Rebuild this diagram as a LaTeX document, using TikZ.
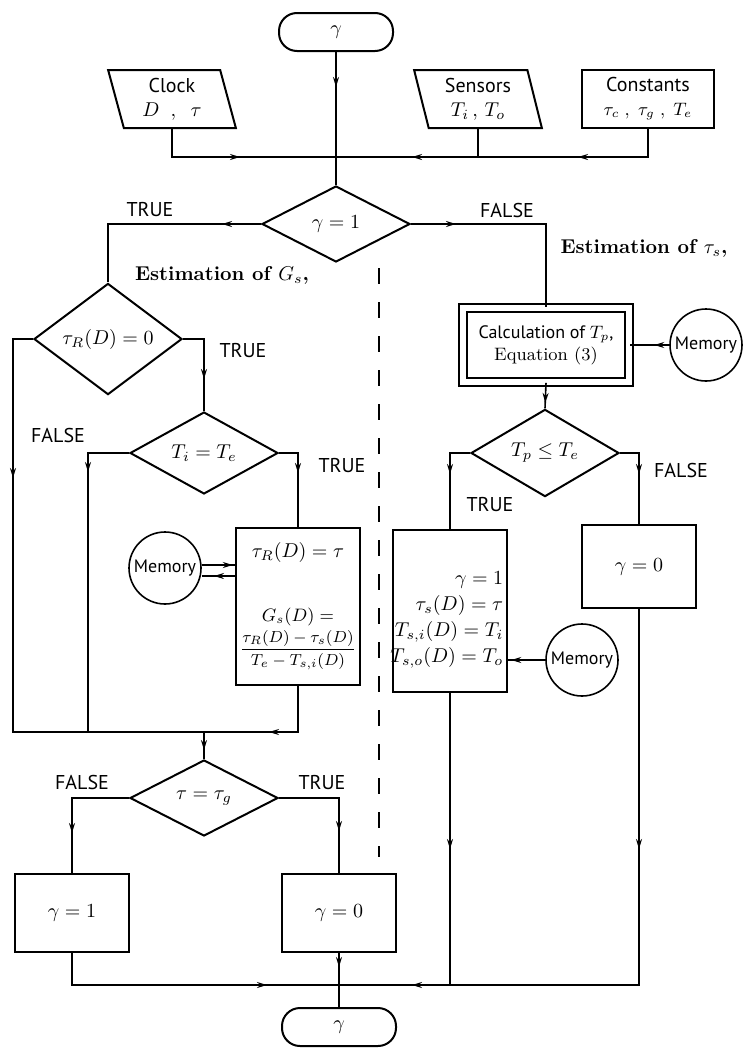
\documentclass[tikz,border=0pt]{standalone}
\usepackage{amsmath,amssymb}
\usepackage{fontspec}
\setsansfont{PT Sans}
\usetikzlibrary{shapes.geometric,arrows.meta,decorations.markings}

\begin{document}
\begin{tikzpicture}[x=0.5pt,y=-0.5pt,line width=0.8pt,
  every node/.style={font=\sffamily},
  box/.style={draw,line width=1pt,minimum width=57pt,minimum height=39pt,inner sep=2pt,align=center},
  term/.style={draw,line width=1pt,rounded corners=9pt,minimum width=57pt,minimum height=19pt},
  cond/.style={diamond,draw,line width=1pt,minimum width=74pt,minimum height=38pt,inner sep=0pt},
  inbox/.style={trapezium,trapezium left angle=102.6,trapezium right angle=77.4,trapezium stretches=true,draw,line width=1pt,minimum width=64pt,minimum height=29pt,inner sep=1pt,align=center},
  mem/.style={circle,draw,minimum size=36pt,inner sep=0pt,font=\sffamily\small},
  est/.style={font=\rmfamily\bfseries},
  arrowat/.style={postaction={decorate,decoration={markings,mark=at position #1 with {\arrow{Stealth[length=5pt,width=3pt]}}}}}]
  \useasboundingbox (0,0) rectangle (746,1049);
  % inputs and first test
  \node[term] (T0) at (336,32) {$\gamma$};
  \node[inbox] (clock) at (172,99) {Clock\\$D\;\;,\;\;\tau$};
  \node[inbox] (sens) at (478,99) {Sensors\\$T_i\,,\,T_o$};
  \node[box,minimum width=66pt,minimum height=29pt,inner sep=1pt] (const) at (648,99) {Constants\\\small$\tau_c\;,\;\tau_g\;,\;T_e$};
  \coordinate (busT) at (336,157);
  \node[cond] (D1) at (336,224) {$\gamma=1$};
  \node (lT1) at (150,210) {TRUE}; \node (lF1) at (507,210) {FALSE};
  \node[est] (estG) at (222,275) {Estimation of $G_s$,};
  \node[est] (estT) at (644,248) {Estimation of $\tau_s$,};
  \coordinate (sepTop) at (379,268); \coordinate (sepBot) at (379,857);
  % left half: estimation of G_s
  \node[cond] (D2) at (108,339) {$\tau_R(D)=0$};
  \node (lT2) at (243,351) {TRUE}; \node (lF2) at (58,435) {FALSE};
  \node[cond] (D3) at (204,453) {$T_i=T_e$};
  \node (lT3) at (342,466) {TRUE};
  \node[box,minimum height=78.5pt] (B1) at (298,606.5) {$\tau_R(D)=\tau$\\[20pt]\small$G_s(D)=$\\[1pt]\footnotesize$\dfrac{\tau_R(D)-\tau_s(D)}{T_e-T_{s,i}(D)}$};
  \node[mem] (M1) at (165,568) {Memory};
  \coordinate (busL) at (204,732);
  \node[cond] (D4) at (204,798) {$\tau=\tau_g$};
  \node (lF4) at (82,782) {FALSE}; \node (lT4) at (322,782) {TRUE};
  \node[box] (B5) at (72,913) {$\gamma=1$};
  \node[box] (B6) at (339,913) {$\gamma=0$};
  \coordinate (busB) at (339,985);
  \node[term] (T1) at (339,1027) {$\gamma$};
  % right half: estimation of tau_s
  \node[box,double,line width=0.9pt,double distance=3pt,minimum width=83pt,minimum height=37pt,font=\sffamily\small] (B3) at (546,345) {Calculation of $T_p$,\\\rmfamily Equation (3)};
  \node[mem] (M2) at (706,345) {Memory};
  \node[cond] (D5) at (545,453) {$T_p\le T_e$};
  \node (lT5) at (490,505) {TRUE}; \node (lF5) at (681,470) {FALSE};
  \node[box,minimum height=81pt] (B4) at (450,611) {};
  \node[anchor=east,align=right,inner sep=0pt] (B4t) at (504,620) {$\gamma=1$\\[1pt]$\tau_s(D)=\tau$\\[1pt]$T_{s,i}(D)=T_i$\\[1pt]$T_{s,o}(D)=T_o$};
  \node[mem] (M3) at (582,660) {Memory};
  \node[box,minimum height=41.5pt] (B7) at (639,566.5) {$\gamma=0$};
  % connectors
  \draw[arrowat=17.5pt] (T0) -- (D1);
  \draw[arrowat=48pt] (clock.south) |- (busT);
  \draw[arrowat=47pt] (sens.south) |- (busT);
  \draw[arrowat=49pt] (const.south) |- (busT);
  \draw[arrowat=19.5pt] (D1.west) -| (D2.north);
  \draw[arrowat=22.5pt] (D1.east) -| (B3.north);
  \draw[dash pattern=on 8pt off 9pt] (sepTop) -- (sepBot);
  \draw[arrowat=79.5pt] (D2.west) -- ++(-10pt,0) |- (busL);
  \draw[arrowat=30.5pt] (D2.east) -| (D3.north);
  \draw[arrowat=30pt] (D3.west) -- ++(-20.5pt,0) |- (busL);
  \draw[arrowat=19.5pt] (D3.east) -| (B1.north);
  \draw[arrowat=15.5pt] ([yshift=1.5pt]M1.east) -- ([yshift=1.5pt]M1.east -| B1.west);
  \draw[arrowat=10.5pt] ([yshift=-4pt]M1.east -| B1.west) -- ([yshift=-4pt]M1.east);
  \draw[arrowat=37.5pt] (B1.south) |- (busL);
  \draw[arrowat=9pt] (busL) -- (D4.north);
  \draw[arrowat=46pt] (D4.west) -| (B5.north);
  \draw[arrowat=46.5pt] (D4.east) -| (B6.north);
  \draw[arrowat=113.5pt] (B5.south) |- (busB);
  \draw[arrowat=7pt] (B6.south) -- (busB);
  \draw (busB) -- (T1.north);
  \draw[arrowat=7.5pt] (M2.west) -- (B3.east);
  \draw[arrowat=10pt] (B3.south) -- (D5.north);
  \draw[arrowat=20.5pt] (D5.west) -| (B4.north);
  \draw[arrowat=20pt] (D5.east) -| (B7.north);
  \draw[arrowat=17pt] (M3.west) -- (M3.west -| B4.east);
  \draw[arrowat=78pt,arrowat=165pt] (B4.south) |- (busB);
  \draw[arrowat=120pt] (B7.south) |- (B4.south |- busB);
\end{tikzpicture}
\end{document}
